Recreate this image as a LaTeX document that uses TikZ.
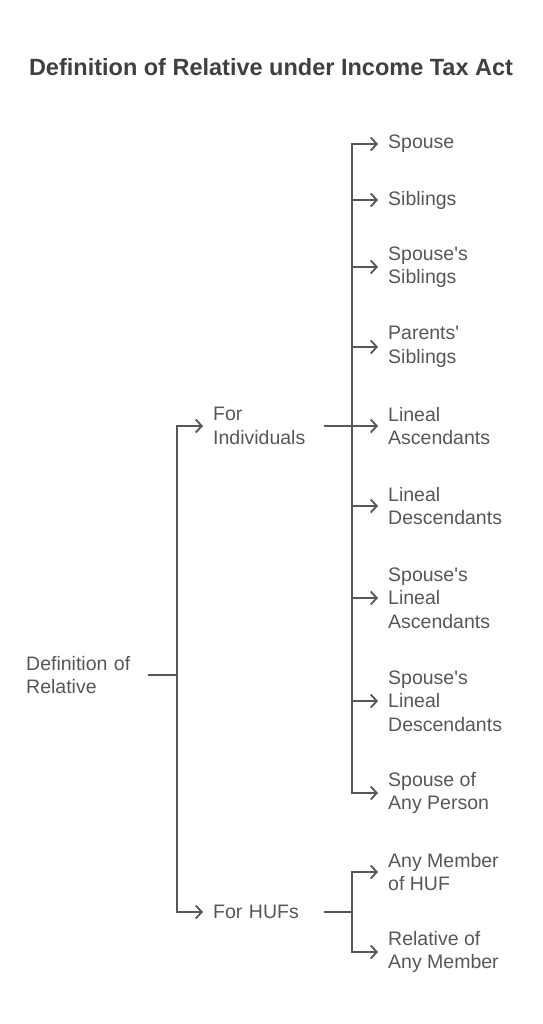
\documentclass[tikz,border=0pt]{standalone}
\usepackage{fontspec}
\setmainfont{Liberation Sans}
\usepackage{tikz}
\usetikzlibrary{arrows.meta}
\usetikzlibrary{positioning}

\definecolor{inkgray}{HTML}{575757}
\definecolor{headgray}{HTML}{404040}

\tikzset{
  leaf/.style={anchor=west, align=left, inner sep=0pt, text=inkgray,
    font=\fontsize{19.5}{23.5}\selectfont},
  branch/.style={leaf, text width=111pt},
  line/.style={draw=inkgray, line width=1.8pt},
  link/.style={line, -{Straight Barb[length=6pt,width=13pt]}, shorten >=10pt}
}
\newcommand{\q}{\textquotesingle}

\begin{document}
\begin{tikzpicture}[x=1pt, y=-1pt]
\useasboundingbox (0,0) rectangle (542,1024);
\node[text=headgray, font=\fontsize{23.5}{27}\bfseries] (title) at (271,67) {Definition of Relative under Income Tax Act};

\node[leaf, text width=122pt] (root) at (26,675) {Definition of\\Relative};
\node[branch] (ind) at (213,426) {For\\Individuals};
\node[branch] (huf) at (213,912) {For HUFs};

% individuals
\node[leaf] (sp) at (388,144) {Spouse};
\node[leaf] (sib) at (388,200) {Siblings};
\node[leaf] (spsib) at (388,267) {Spouse\q s\\Siblings};
\node[leaf] (parsib) at (388,347) {Parents\q\\Siblings};
\node[leaf] (asc) at (388,426) {Lineal\\Ascendants};
\node[leaf] (desc) at (388,506) {Lineal\\Descendants};
\node[leaf] (spasc) at (388,598) {Spouse\q s\\Lineal\\Ascendants};
\node[leaf] (spdesc) at (388,701) {Spouse\q s\\Lineal\\Descendants};
\node[leaf] (spany) at (388,793) {Spouse of\\Any Person};

% HUFs
\node[leaf] (mem) at (388,872) {Any Member\\of HUF};
\node[leaf] (rel) at (388,952) {Relative of\\Any Member};

\coordinate (t1) at (177,675);
\coordinate (t2) at (352,426);
\coordinate (t3) at (352,912);

\draw[line] (root.east) -- (t1);
\draw[link] (t1) |- (ind.west);
\draw[link] (t1) |- (huf.west);

\draw[line] (ind.east) -- (t2);
\foreach \n in {sp,sib,spsib,parsib,asc,desc,spasc,spdesc,spany}
  \draw[link] (t2) |- (\n.west);

\draw[line] (huf.east) -- (t3);
\foreach \n in {mem,rel}
  \draw[link] (t3) |- (\n.west);
\end{tikzpicture}
\end{document}
